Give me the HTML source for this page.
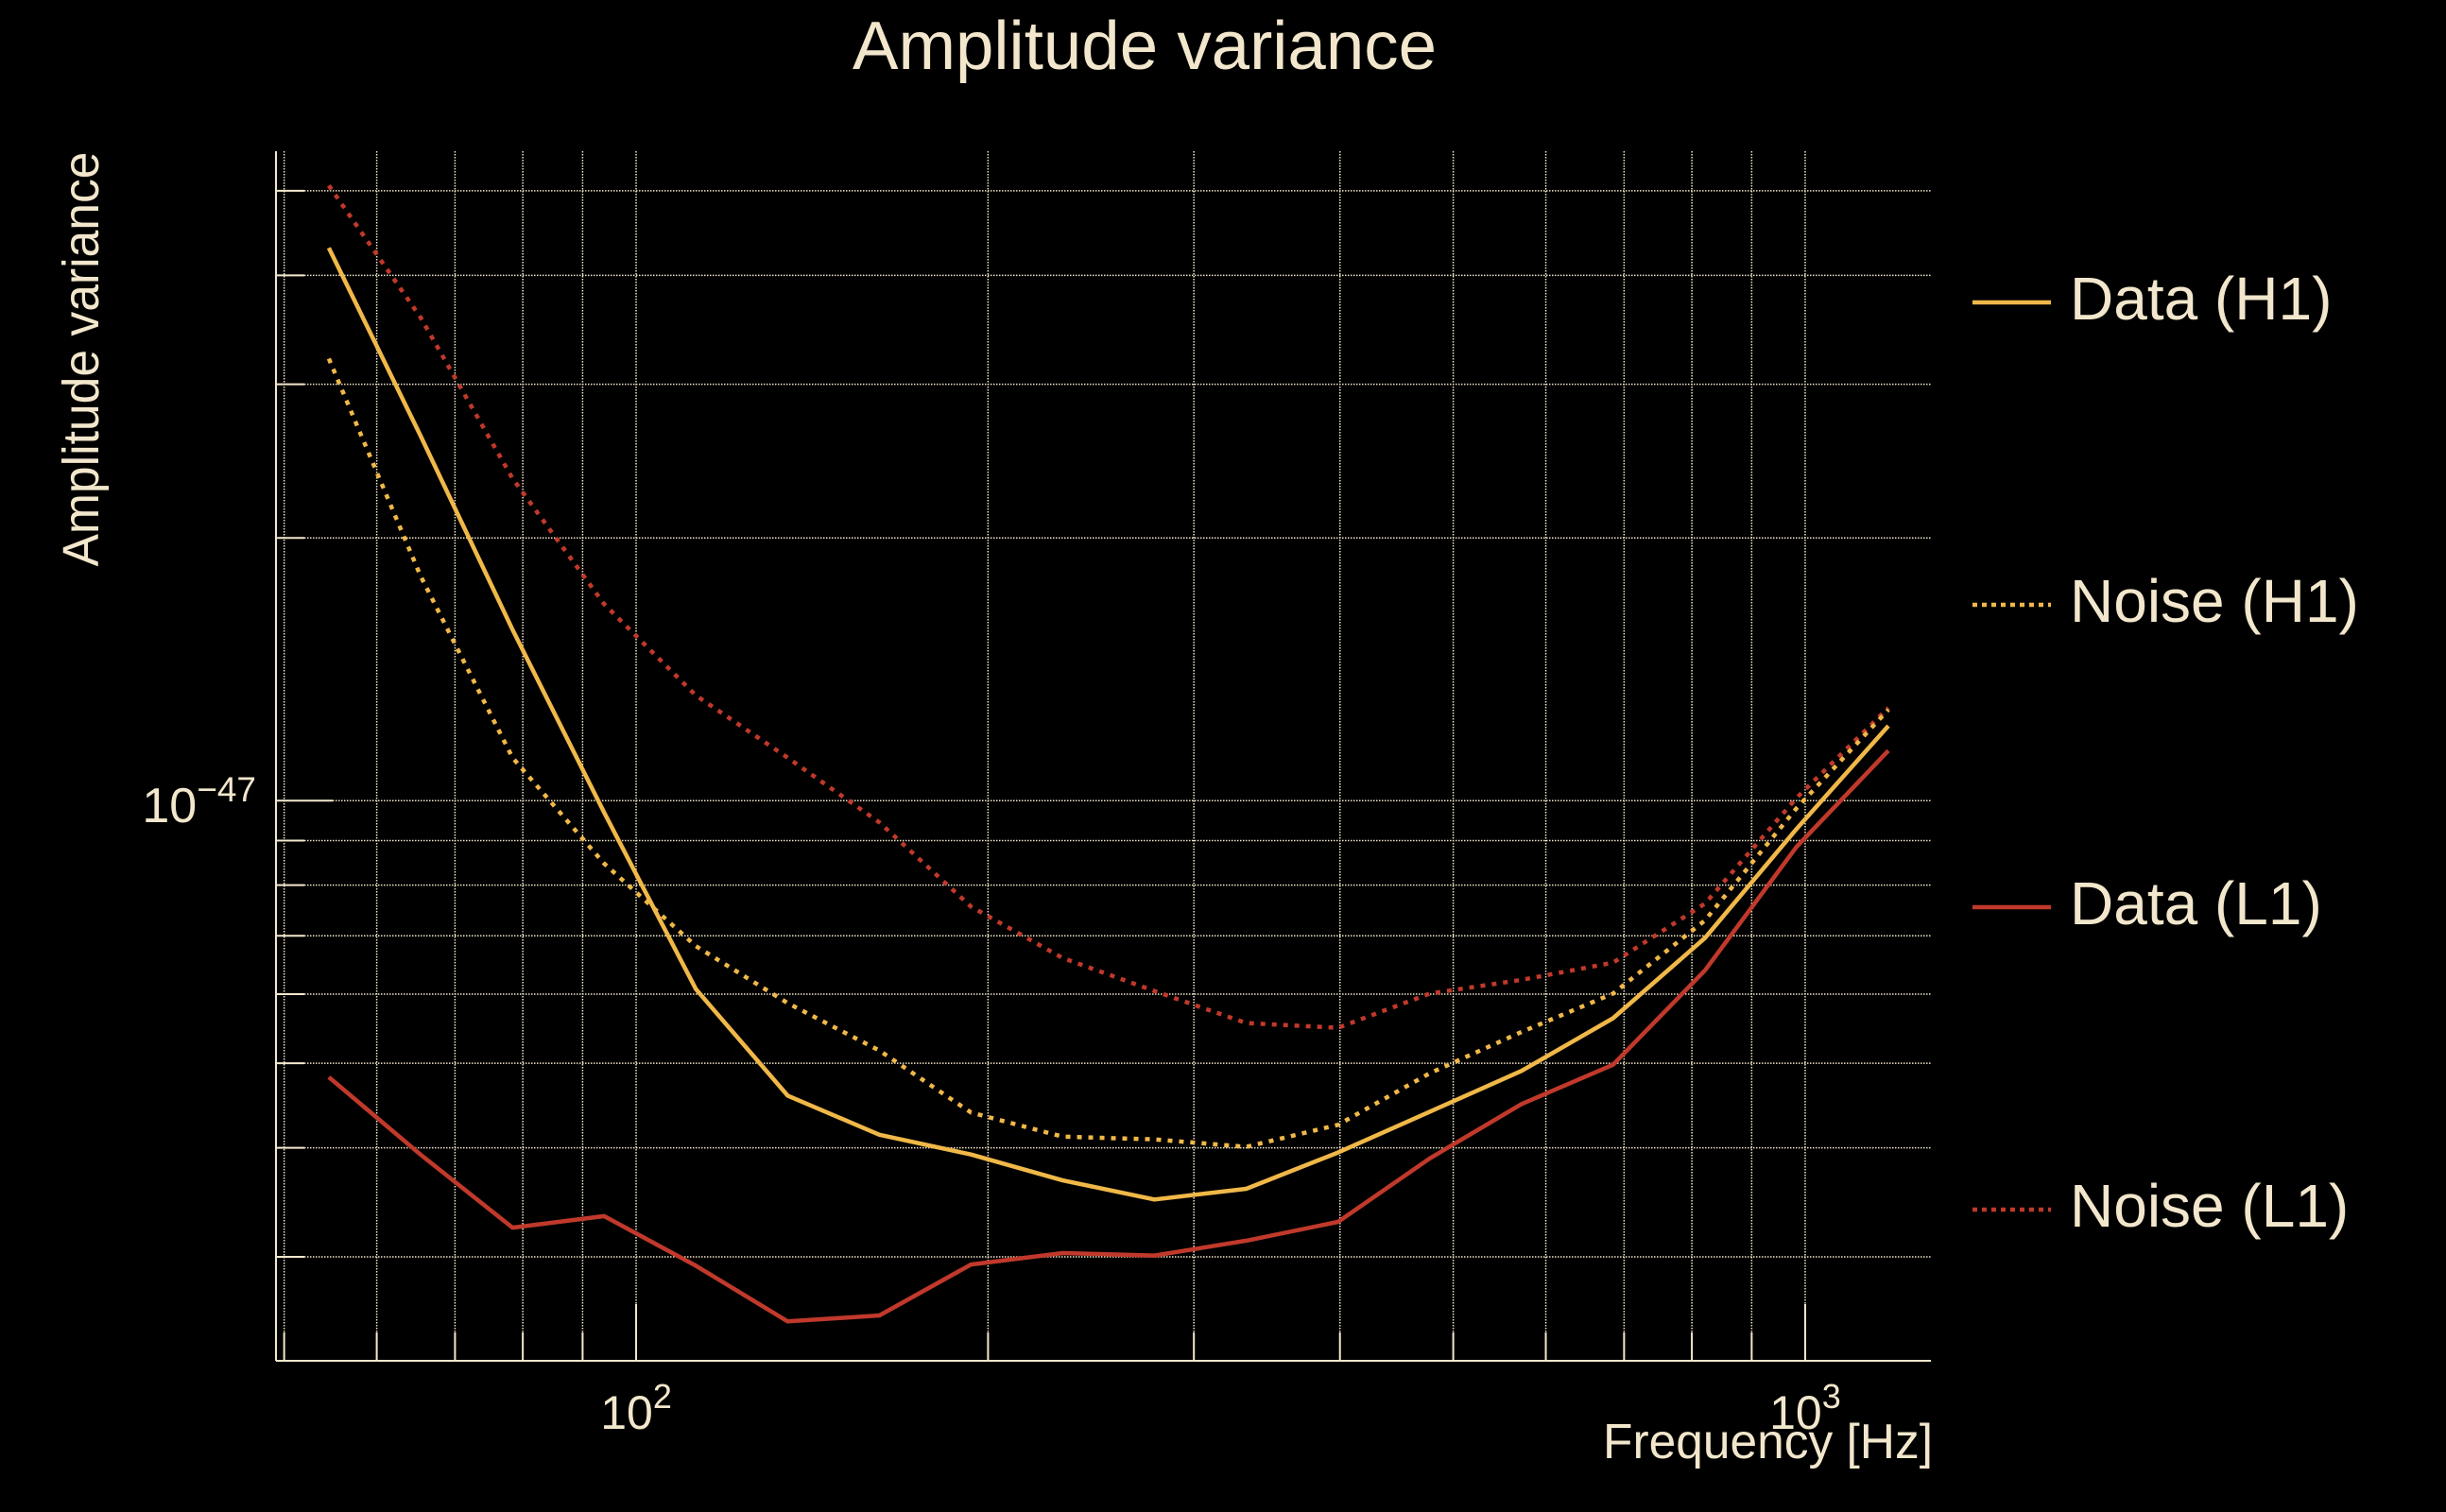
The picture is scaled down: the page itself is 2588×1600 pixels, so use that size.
<!DOCTYPE html>
<html><head><meta charset="utf-8"><style>
html,body{margin:0;padding:0;background:#000;}
svg{display:block;font-family:"Liberation Sans",sans-serif;}
</style></head><body>
<svg id="chart" width="2588" height="1600" viewBox="0 0 2588 1600" xmlns="http://www.w3.org/2000/svg">
<rect width="2588" height="1600" fill="#000"/>
<text x="1211" y="73" font-size="72" fill="#f2e7cc" text-anchor="middle" textLength="618" lengthAdjust="spacingAndGlyphs">Amplitude variance</text>
<text transform="translate(104,380) rotate(-90)" font-size="54" fill="#f2e7cc" text-anchor="middle" textLength="439" lengthAdjust="spacingAndGlyphs">Amplitude variance</text>
<text x="2045" y="1543" font-size="52" fill="#f2e7cc" text-anchor="end" textLength="349" lengthAdjust="spacingAndGlyphs">Frequency [Hz]</text>
<g id="grid"></g>
<g id="series"></g>
<g id="axes"></g>
<g id="legend"></g>
</svg>
<script>
const freqs = [54.6, 65.4, 78.4, 93.9, 112.5, 134.8, 161.5, 193.4, 231.7, 277.6, 332.6, 398.5, 477.4, 572, 685, 821, 983, 1178];
const dataH1 = [4.30, 2.62, 1.57, 0.969, 0.608, 0.459, 0.414, 0.393, 0.367, 0.349, 0.359, 0.395, 0.440, 0.490, 0.563, 0.696, 0.928, 1.218];
const noiseH1 = [3.21, 1.81, 1.12, 0.847, 0.681, 0.586, 0.517, 0.439, 0.412, 0.409, 0.401, 0.425, 0.487, 0.543, 0.601, 0.729, 0.980, 1.271];
const dataL1 = [0.482, 0.393, 0.324, 0.334, 0.293, 0.253, 0.257, 0.294, 0.303, 0.301, 0.313, 0.329, 0.389, 0.449, 0.498, 0.639, 0.885, 1.141];
const noiseL1 = [5.07, 3.58, 2.34, 1.68, 1.32, 1.12, 0.944, 0.756, 0.660, 0.605, 0.556, 0.549, 0.601, 0.623, 0.652, 0.762, 1.007, 1.277];
const seriesNames = ["Data (H1)", "Noise (H1)", "Data (L1)", "Noise (L1)"];
const xGridVals = [50,60,70,80,90,100,200,300,400,500,600,700,800,900,1000];
const yGridVals = [0.3,0.4,0.5,0.6,0.7,0.8,0.9,1,2,3,4,5];
const xTickLabels = [100, 1000];
const xTickExps = ["2", "3"];

const NS = "http://www.w3.org/2000/svg";
const L = 292, R = 2043, T = 160, B = 1440;
const XMIN = 49.2, XMAX = 1281, YMIN = 0.228, YMAX = 5.55; // units of 1e-47
const cream = "#f2e7cc";
function xs(f){ return L + (Math.log10(f) - Math.log10(XMIN)) / (Math.log10(XMAX) - Math.log10(XMIN)) * (R - L); }
function ys(v){ return T + (Math.log10(YMAX) - Math.log10(v)) / (Math.log10(YMAX) - Math.log10(YMIN)) * (B - T); }
function mk(tag, attrs, parent){ const e = document.createElementNS(NS, tag); for (const k in attrs) e.setAttribute(k, attrs[k]); parent.appendChild(e); return e; }

const grid = document.getElementById("grid");
xGridVals.forEach(f => {
  const x = xs(f);
  const g = mk("line", {x1:x, x2:x, y1:T, y2:B, stroke:cream, "stroke-width":1.5, "stroke-dasharray":"1.5,1.5"}, grid);
  
  
});
yGridVals.forEach(v => {
  const y = ys(v);
  const g = mk("line", {x1:L, x2:R, y1:y, y2:y, stroke:cream, "stroke-width":1.5, "stroke-dasharray":"1.5,1.5"}, grid);
  
  
});

const axes = document.getElementById("axes");
const ya = mk("line", {x1:L, x2:L, y1:T, y2:B, stroke:cream, "stroke-width":2}, axes);


const xa = mk("line", {x1:L, x2:R, y1:B, y2:B, stroke:cream, "stroke-width":2}, axes);


yGridVals.forEach(v => {
  const y = ys(v);
  const len = (v === 1) ? 60 : 30;
  const t = mk("line", {x1:L, x2:L+len, y1:y, y2:y, stroke:cream, "stroke-width":2}, axes);
  
  
});
xGridVals.forEach(f => {
  const x = xs(f);
  const len = (f === 100 || f === 1000) ? 60 : 30;
  const t = mk("line", {x1:x, x2:x, y1:B, y2:B-len, stroke:cream, "stroke-width":2}, axes);
  
  
});
xTickLabels.forEach((f, i) => {
  const t = mk("text", {x:xs(f), y:1512, "font-size":50, fill:cream, "text-anchor":"middle"}, axes);
  
  
  const a = document.createElementNS(NS, "tspan"); a.textContent = "10"; t.appendChild(a);
  const b = document.createElementNS(NS, "tspan"); b.setAttribute("dy", "-22"); b.setAttribute("font-size", "36"); b.textContent = xTickExps[i]; t.appendChild(b);
});
const yl = mk("text", {x:271, y:870, "font-size":52, fill:cream, "text-anchor":"end"}, axes);


{ const a = document.createElementNS(NS, "tspan"); a.textContent = "10"; yl.appendChild(a);
  const b = document.createElementNS(NS, "tspan"); b.setAttribute("dy", "-22"); b.setAttribute("font-size", "37"); b.textContent = "\u221247"; yl.appendChild(b); }

const seriesData = [dataH1, noiseH1, dataL1, noiseL1];
const colors = ["#f0b848", "#f0b848", "#c0392b", "#c0392b"];
const dashes = [null, "5,7", null, "5,7"];
const slugs = ["data-h1-line", "noise-h1-line", "data-l1-line", "noise-l1-line"];
const sg = document.getElementById("series");
[3,1,2,0].forEach(i => {
  const pts = freqs.map((f, j) => xs(f).toFixed(1) + "," + ys(seriesData[i][j]).toFixed(1)).join(" ");
  const attrs = {points:pts, fill:"none", stroke:colors[i], "stroke-width":4.5, "stroke-linejoin":"round"};
  if (dashes[i]) attrs["stroke-dasharray"] = dashes[i];
  const p = mk("polyline", attrs, sg);
  
  
});

const lg = document.getElementById("legend");
const legBase = [338, 658, 978, 1298];
seriesNames.forEach((n, i) => {
  const attrs = {x1:2087, x2:2170, y1:legBase[i]-18, y2:legBase[i]-18, stroke:colors[i], "stroke-width":4.5};
  if (dashes[i]) attrs["stroke-dasharray"] = "5,5";
  const ln = mk("line", attrs, lg);
  
  
  const t = mk("text", {x:2190, y:legBase[i], "font-size":64, fill:cream}, lg);
  t.textContent = n;
  
  
});
</script>
</body></html>
